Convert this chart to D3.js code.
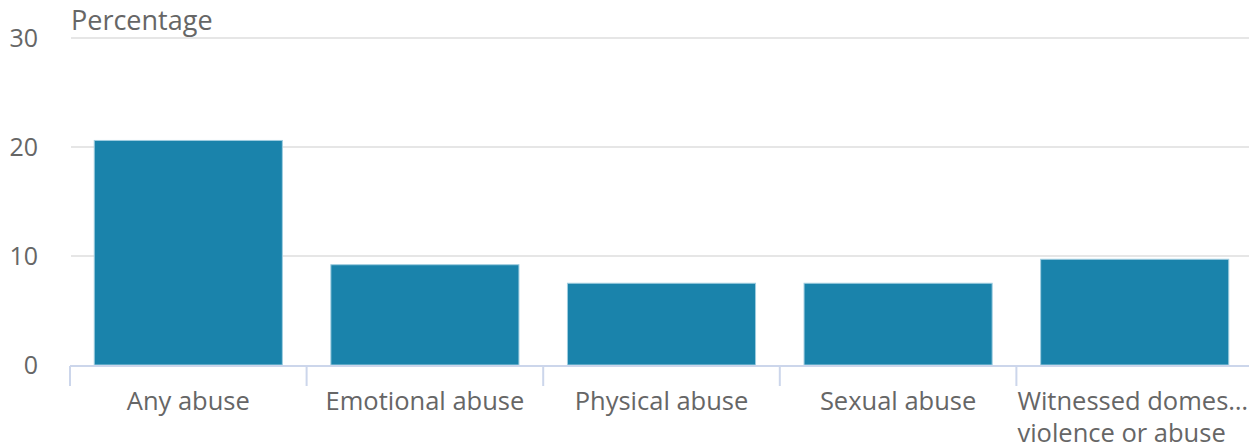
<!DOCTYPE html>
<html>
<head>
<meta charset="utf-8">
<script src="https://cdn.jsdelivr.net/npm/d3@7"></script>
<style>
	body { margin: 0; background: #fff; }
	text { font-family: 'Open Sans', sans-serif; fill: #666; }
</style>
</head>
<body>
<svg id="chart" width="1249" height="446"></svg>
<script>
// Chart data.
const categories = ['Any abuse', 'Emotional abuse', 'Physical abuse', 'Sexual abuse', 'Witnessed domestic violence or abuse'];
const categoryLines = [['Any abuse'], ['Emotional abuse'], ['Physical abuse'], ['Sexual abuse'], ['Witnessed domes\u2026', 'violence or abuse']];
const values = [20.6, 9.2, 7.5, 7.5, 9.7];
const yTicks = [0, 10, 20, 30];

const width = 1249;
const svg = d3.select('#chart');

const x = d3.scaleBand().domain(categories).range([70, 1253]).paddingInner(0.205).paddingOuter(0.1025);
const y = d3.scaleLinear().domain([0, 30]).range([365, 38]);

// Grid lines.
svg.append('g')
	.selectAll('line')
	.data(yTicks.slice(1))
	.join('line')
	.attr('x1', 71)
	.attr('x2', width)
	.attr('y1', d => y(d))
	.attr('y2', d => y(d))
	.attr('stroke', '#e6e6e6')
	.attr('stroke-width', 2);

// Y labels.
svg.append('g')
	.selectAll('text')
	.data(yTicks)
	.join('text')
	.attr('x', 38)
	.attr('y', d => y(d))
	.attr('dy', '0.35em')
	.attr('text-anchor', 'end')
	.attr('font-size', 25)
	.text(d => d);

svg.append('text')
	.attr('x', 71)
	.attr('y', 30)
	.attr('font-size', 27)
	.text('Percentage');

// Bars.
svg.append('g')
	.selectAll('rect')
	.data(values)
	.join('rect')
	.attr('x', (d, i) => x(categories[i]))
	.attr('y', d => y(d))
	.attr('width', x.bandwidth())
	.attr('height', d => y(0) - y(d))
	.attr('fill', '#1a83ab')
	.attr('stroke', '#9fcde0')
	.attr('stroke-width', 1);

// X axis line and ticks.
svg.append('line')
	.attr('x1', 70)
	.attr('x2', width)
	.attr('y1', 366)
	.attr('y2', 366)
	.attr('stroke', '#ccd6eb')
	.attr('stroke-width', 2);

const step = x.step();
svg.append('g')
	.selectAll('line')
	.data(d3.range(categories.length + 1))
	.join('line')
	.attr('x1', i => 70 + i * step)
	.attr('x2', i => 70 + i * step)
	.attr('y1', 366)
	.attr('y2', 386)
	.attr('stroke', '#ccd6eb')
	.attr('stroke-width', 2);

// X labels, centred; a label overflowing the right edge is left-aligned to its tick.
const labels = svg.append('g')
	.selectAll('text')
	.data(categoryLines)
	.join('text')
	.attr('y', 410)
	.attr('font-size', 25.5);

labels.selectAll('tspan')
	.data(d => d)
	.join('tspan')
	.attr('dy', (d, i) => (i ? 32 : 0))
	.text(d => d);

labels.each(function (d, i) {
	const el = d3.select(this);
	const w = this.getBBox().width;
	const cx = x(categories[i]) + x.bandwidth() / 2;
	if (cx + w / 2 > width - 2) {
		const left = 70 + i * step + 1;
		el.attr('text-anchor', 'start').selectAll('tspan').attr('x', left);
	} else {
		el.attr('text-anchor', 'middle').selectAll('tspan').attr('x', cx);
	}
});
</script>
</body>
</html>
